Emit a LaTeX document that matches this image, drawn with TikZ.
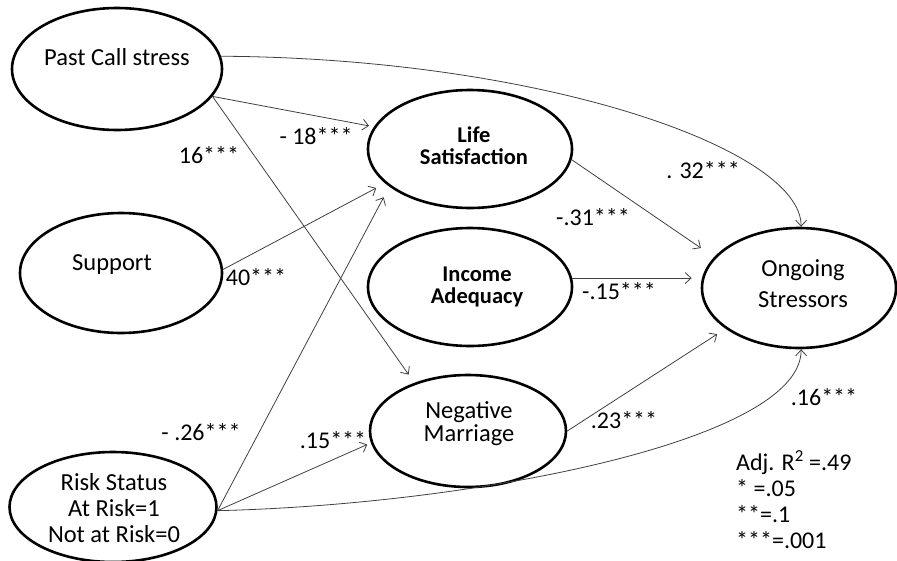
\documentclass[tikz,border=0pt]{standalone}
\usepackage{fontspec}
\setmainfont{Carlito}
\usetikzlibrary{arrows.meta,shapes.geometric}
\begin{document}
\begin{tikzpicture}[x=1pt,y=-1pt,
  ell/.style={draw, ellipse, line width=2.6pt, inner sep=0pt},
  txt/.style={font=\fontsize{24.5}{24}\selectfont, align=center, inner sep=0pt},
  btxt/.style={font=\fontsize{22.5}{22}\selectfont\bfseries, align=center, inner sep=0pt},
  lab/.style={font=\fontsize{24}{24}\selectfont, inner sep=0pt},
  arr/.style={draw=black!75, line width=0.8pt, -{Straight Barb[length=6pt,width=11pt]}}
]
\useasboundingbox (0,0) rectangle (897,560);

% ellipses
\node[ell, minimum width=210pt, minimum height=122pt] (pcs) at (117,69) {};
\node[ell, minimum width=202pt, minimum height=120pt] (sup) at (121,273) {};
\node[ell, minimum width=207pt, minimum height=110pt] (risk) at (113,507) {};
\node[ell, minimum width=204pt, minimum height=118pt] (ls) at (470,149) {};
\node[ell, minimum width=204pt, minimum height=118pt] (ia) at (470,287) {};
\node[ell, minimum width=196pt, minimum height=112pt] (nm) at (468,431) {};
\node[ell, minimum width=194pt, minimum height=120pt] (os) at (799,288) {};

% texts
\node[txt] (pcst) at (117,57) {Past Call stress};
\node[txt] (supt) at (112,265) {Support};
\node[txt, font=\fontsize{24.5}{26}\selectfont] (riskt) at (114,508) {Risk Status\\At Risk=1\\Not at Risk=0};
\node[btxt] (lst) at (474,146) {Life\\Satisfaction};
\node[btxt] (iat) at (477,287) {Income\\Adequacy};
\node[txt, font=\fontsize{24.5}{23}\selectfont] (nmt) at (469,424) {Negative\\Marriage};
\node[txt, font=\fontsize{24.5}{31}\selectfont] (ost) at (803,284) {Ongoing\\Stressors};

% connectors
\draw[arr, shorten >=5pt] (pcs.-16) -- (ls.167);
\draw[arr, shorten >=10pt] (pcs.-16) -- (nm.138);
\draw[arr] (pcs.7) .. controls +(320,2) and +(0,-78) .. (os.88);
\draw[arr, shorten >=10pt] (sup.2) -- (ls.202);
\draw[arr, shorten >=12pt] (risk.-2) -- (ls.205);
\draw[arr, shorten >=4pt] (risk.-2) -- (nm.187);
\draw[arr] (risk.-2) .. controls +(254,-6) and +(0,92) .. (os.-88);
\draw[arr, shorten >=16pt] (ls.-6) -- (os.160);
\draw[arr, shorten >=9pt] (ia.5) -- (ia.5 -| os.west);
\draw[arr, shorten >=10pt] (nm.0) -- (os.209);

% coefficient labels
\node[lab] (l1) at (316,136) {- 18***};
\node[lab] (l2) at (209,155) {16***};
\node[lab] (l3) at (703,170) {. 32***};
\node[lab] (l4) at (256,277) {40***};
\node[lab] (l5) at (201,432) {- .26***};
\node[lab] (l6) at (333,440) {.15***};
\node[lab] (l7) at (593,217) {-.31***};
\node[lab] (l8) at (619,291) {-.15***};
\node[lab] (l9) at (624,420) {.23***};
\node[lab] (l10) at (824,397) {.16***};

% legend
\node[lab, anchor=west] (g1) at (736,463) {Adj. R\textsuperscript{2} =.49};
\node[lab, anchor=west] (g2) at (736,488) {* =.05};
\node[lab, anchor=west] (g3) at (736,514) {**=.1};
\node[lab, anchor=west] (g4) at (736,540) {***=.001};
\end{tikzpicture}
\end{document}
